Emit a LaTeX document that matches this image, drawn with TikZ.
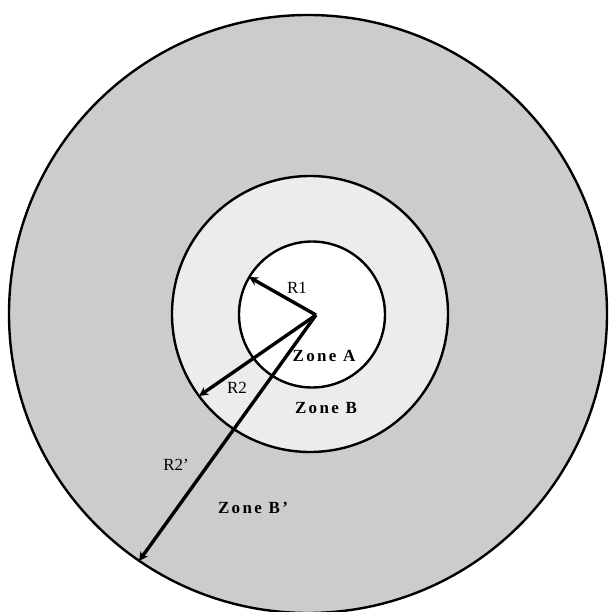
\documentclass[tikz,border=0pt]{standalone}
\usepackage{fontspec}
\setmainfont{Liberation Serif}
\usetikzlibrary{arrows.meta}
\begin{document}
\begin{tikzpicture}[x=1pt,y=1pt,
  ring/.style={draw=black,line width=2.4pt},
  radius arrow/.style={line width=3.4pt,-{Stealth[length=9pt,width=9pt]}},
  rlabel/.style={font=\fontsize{17}{17}\selectfont,inner sep=0pt},
  zlabel/.style={font=\fontsize{17}{17}\selectfont\bfseries\addfontfeatures{LetterSpace=14},inner sep=0pt}]
\useasboundingbox (0,0) rectangle (613,611);
% circles (y = 611 - image y)
\coordinate (Co) at (308,297);
\coordinate (Cm) at (310,297);
\coordinate (Ci) at (312,296.5);
\fill[gray!40] (Co) circle[radius=299];
\fill[gray!15] (Cm) circle[radius=138];
\fill[white] (Ci) circle[radius=73];
\draw[ring] (Co) circle[radius=299];
\draw[ring] (Cm) circle[radius=138];
\draw[ring] (Ci) circle[radius=73];
% arrows
\coordinate (O) at (316,296);
\coordinate (T1) at (249,334);
\coordinate (T2) at (199,215);
\coordinate (T3) at (139,50);
\draw[radius arrow] (O) -- (T1);
\draw[radius arrow] (O) -- (T2);
\draw[radius arrow] (O) -- (T3);
% labels
\node[rlabel] (lR1) at (297,323) {R1};
\node[rlabel] (lR2) at (237,223) {R2};
\node[rlabel] (lR2p) at (176,146) {R2'};
\node[zlabel] (zA) at (324,255) {Zone A};
\node[zlabel] (zB) at (326,203) {Zone B};
\node[zlabel] (zBp) at (253,103) {Zone B'};
\end{tikzpicture}
\end{document}
